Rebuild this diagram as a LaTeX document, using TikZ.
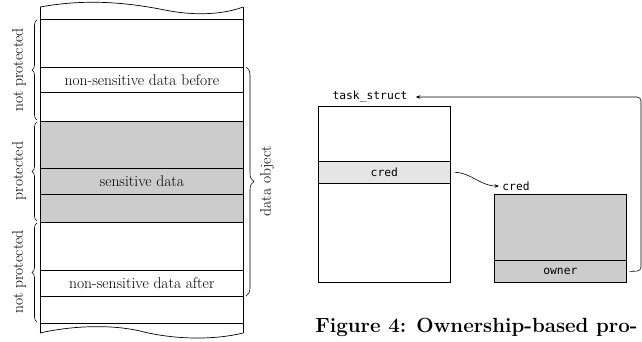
\documentclass[tikz,border=0pt]{standalone}
\usepackage{fontspec}
\setmonofont{DejaVu Sans Mono}
\usetikzlibrary{decorations.pathreplacing,arrows.meta}
\begin{document}
\begin{tikzpicture}[x=1pt,y=-1pt,
  line width=0.7pt,
  cell/.style={draw, inner sep=0pt, minimum width=203pt, anchor=north west, font=\fontsize{15.5}{16}\selectfont},
  rcell/.style={draw, inner sep=0pt, minimum width=132pt, anchor=north west, font=\ttfamily\fontsize{11.3}{12}\selectfont},
  lbl/.style={font=\fontsize{15.5}{16}\selectfont, rotate=90, inner sep=0pt},
  mono/.style={font=\ttfamily\fontsize{11.3}{12}\selectfont, inner sep=0pt},
  brc/.style={decorate, decoration={brace, amplitude=5pt}, line width=0.6pt},
  arr/.style={-{Stealth[length=4.5pt,width=3.5pt]}, line width=0.6pt}
]
\clip (0,0) rectangle (642,341);
\fill[white] (0,0) rectangle (642,341);
% ---------- left column ----------
\fill[gray!40] (40,121) rectangle (243,222);
\draw (40,7) .. controls (95,-3) and (140,5) .. (170,11) .. controls (205,17) and (230,12) .. (243,7);
\draw (40,333) .. controls (70,326) and (110,324) .. (140,331) .. controls (175,340) and (215,340) .. (243,333);
\draw (40,7) -- (40,333);
\draw (243,7) -- (243,333);
\draw (40,19) -- (243,19);
\draw (40,121) -- (243,121);
\draw (40,222) -- (243,222);
\draw (40,323) -- (243,323);
\node[cell, minimum height=25pt] (nsb) at (40,67) {non-sensitive data before};
\node[cell, minimum height=26pt] (sd) at (40,168) {sensitive data};
\node[cell, minimum height=26pt] (nsa) at (40,270) {non-sensitive data after};
% braces
\draw[brc] (37,120) -- (37,20);
\draw[brc] (37,221) -- (37,122);
\draw[brc] (37,322) -- (37,223);
\draw[brc, decoration={amplitude=8pt}] (246,67) -- (246,296);
\node[lbl] (np1) at (19,70) {not protected};
\node[lbl] (pr) at (19,171) {protected};
\node[lbl] (np2) at (19,272) {not protected};
\node[lbl] (dobj) at (267,181) {data object};
% ---------- right part ----------
\node[mono] (tslabel) at (370,97) {task\_struct};
\node[rcell, minimum height=176pt] (ts) at (318,106) {};
\node[rcell, minimum height=22pt, fill=gray!20] (tcred) at (318,161) {cred};
\node[mono] (credlabel) at (516,186) {cred};
\node[rcell, minimum height=88pt, fill=gray!40] (cb) at (494,194) {};
\node[rcell, minimum height=22pt, fill=gray!40] (owner) at (494,260) {owner};
\draw[arr] ([xshift=4pt]tcred.east) .. controls ([xshift=20pt]tcred.east) and ([xshift=-22pt]credlabel.west) .. ([xshift=-3pt]credlabel.west);
\coordinate (rt) at (641,97);
\coordinate (rb) at (641,271);
\draw[arr, rounded corners=4pt] ([xshift=3pt]owner.east) -- (rb) -- (rt) -- ([xshift=8pt]tslabel.east);
% caption
\node[anchor=base west, inner sep=0pt, font=\bfseries\fontsize{20.5}{22}\selectfont] (cap) at (315,332) {Figure 4: Ownership-based pro-};
\end{tikzpicture}
\end{document}
